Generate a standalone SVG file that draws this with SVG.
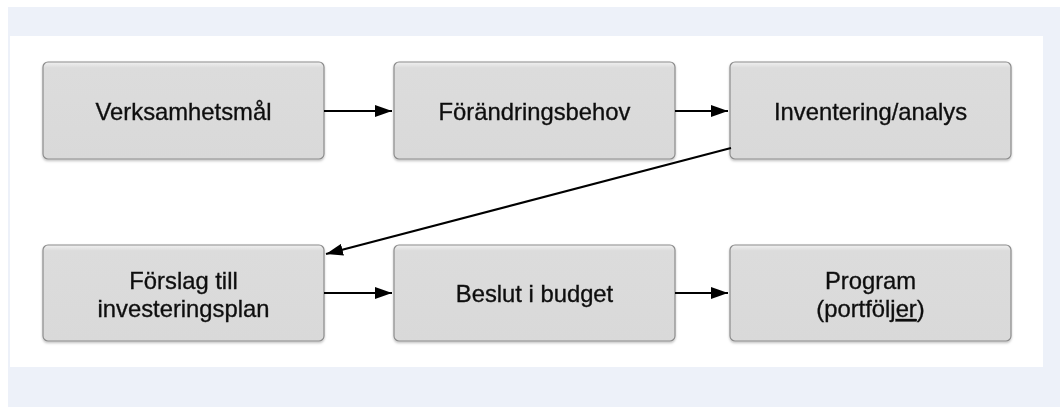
<svg xmlns="http://www.w3.org/2000/svg" width="1060" height="407" viewBox="0 0 1060 407">
<style>
.box{fill:url(#g);stroke:#8c8c8c;stroke-width:1.2}
.lbl{font-family:"Liberation Sans",Arial,sans-serif;font-size:23.8px;fill:#111;stroke:#111;stroke-width:0.35;text-anchor:middle}
.con{stroke:#000;stroke-width:2.2;fill:none;marker-end:url(#ah)}
</style>
<defs>
<linearGradient id="g" x1="0" y1="0" x2="0" y2="1">
<stop offset="0" stop-color="#f0f0f0"/>
<stop offset="0.06" stop-color="#dcdcdc"/>
<stop offset="1" stop-color="#d9d9d9"/>
</linearGradient>
<filter id="sh" x="-5%" y="-5%" width="110%" height="115%">
<feDropShadow dx="0" dy="1.5" stdDeviation="1" flood-color="#000" flood-opacity="0.25"/>
</filter>
<marker id="ah" viewBox="0 0 17 12" refX="17" refY="6" markerWidth="17" markerHeight="12" markerUnits="userSpaceOnUse" orient="auto">
<path d="M0,0 L17,6 L0,12 Z" fill="#000"/>
</marker>
</defs>
<rect x="8" y="7" width="1052" height="400" fill="#edf1f9"/>
<rect x="10" y="36" width="1033" height="331" fill="#ffffff"/>
<g id="n1" filter="url(#sh)"><rect class="box" x="43" y="62" width="281" height="97" rx="5"/><text class="lbl" x="183.5" y="119.5">Verksamhetsmål</text></g>
<g id="n2" filter="url(#sh)"><rect class="box" x="394" y="62" width="281" height="97" rx="5"/><text class="lbl" x="534.5" y="119.5">Förändringsbehov</text></g>
<g id="n3" filter="url(#sh)"><rect class="box" x="730" y="62" width="281" height="97" rx="5"/><text class="lbl" x="870.5" y="119.5">Inventering/analys</text></g>
<g id="n4" filter="url(#sh)"><rect class="box" x="43" y="245" width="281" height="96" rx="5"/><text class="lbl" x="183.5" y="289">Förslag till</text><text class="lbl" x="183.5" y="317">investeringsplan</text></g>
<g id="n5" filter="url(#sh)"><rect class="box" x="394" y="245" width="281" height="96" rx="5"/><text class="lbl" x="534.5" y="302">Beslut i budget</text></g>
<g id="n6" filter="url(#sh)"><rect class="box" x="730" y="245" width="281" height="96" rx="5"/><text class="lbl" x="870.5" y="289">Program</text><text class="lbl" x="870.5" y="317">(portfölj<tspan text-decoration="underline">er</tspan>)</text></g>
<g id="connectors">
<line class="con" x1="324" y1="111" x2="392" y2="111"/>
<line class="con" x1="675" y1="111" x2="728" y2="111"/>
<line class="con" x1="731" y1="148" x2="326" y2="254"/>
<line class="con" x1="324" y1="293" x2="392" y2="293"/>
<line class="con" x1="675" y1="293" x2="728" y2="293"/>
</g>
</svg>
